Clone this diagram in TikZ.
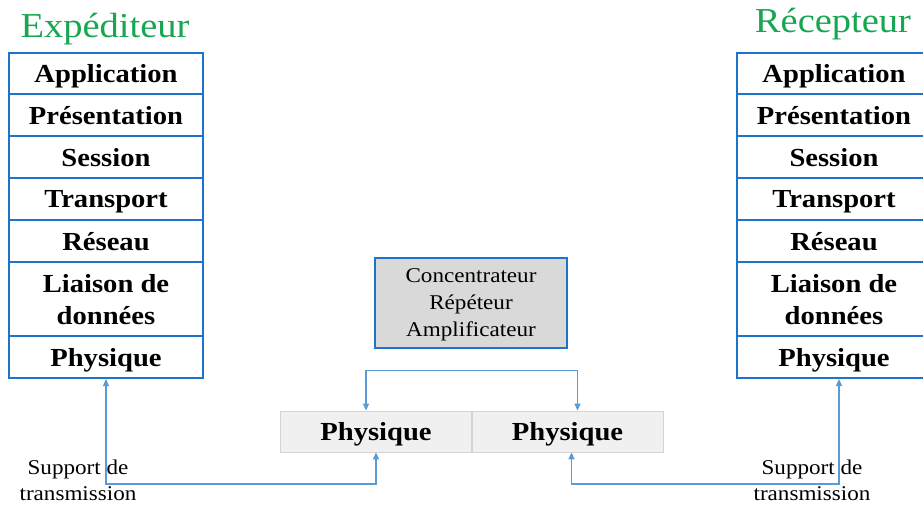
\documentclass[tikz,border=0pt]{standalone}
\usepackage{fontspec}
\setmainfont{Liberation Serif}[FakeStretch=1.1]
\usetikzlibrary{arrows.meta}
\usepackage{xcolor}
\definecolor{layerblue}{RGB}{30,115,205}
\definecolor{linkblue}{RGB}{91,155,213}
\definecolor{titlegreen}{RGB}{24,166,82}
\definecolor{hubgray}{RGB}{217,217,217}
\definecolor{physgray}{RGB}{240,240,240}
\definecolor{physedge}{RGB}{212,212,212}

\begin{document}
\begin{tikzpicture}[x=1pt,y=-1pt,>={Triangle[length=7pt,width=6pt]},line cap=round,
  layer/.style={draw=layerblue,line width=2pt,minimum width=194pt,inner sep=0pt,align=center,
    text depth=0pt,font=\fontsize{26}{32}\selectfont\bfseries},
  hub/.style={draw=layerblue,line width=2pt,fill=hubgray,minimum width=192pt,minimum height=90pt,
    inner sep=0pt,align=center,text depth=0pt,font=\fontsize{21}{27}\selectfont},
  phys/.style={draw=physedge,line width=0.8pt,fill=physgray,minimum width=191pt,minimum height=41pt,
    inner sep=0pt,text depth=0pt,font=\fontsize{26}{32}\selectfont\bfseries},
  side/.style={text=titlegreen,inner sep=0pt,font=\fontsize{35}{42}\selectfont},
  medium/.style={inner sep=0pt,align=center,font=\fontsize{21}{26}\selectfont},
  link/.style={draw=linkblue,line width=1.3pt,line cap=butt}]
\useasboundingbox (0,0) rectangle (923,506);
% titles
\node[side] (sender) at (105,29) {Expéditeur};
\node[side] (receiver) at (833,24) {Récepteur};
% the two stacks
\foreach \s/\cx in {e/106,r/834}{
  \node[layer,minimum height=41pt] (\s App) at (\cx,73.5) {Application};
  \node[layer,minimum height=42pt] (\s Pres) at (\cx,115) {Présentation};
  \node[layer,minimum height=42pt] (\s Sess) at (\cx,157) {Session};
  \node[layer,minimum height=42pt] (\s Trans) at (\cx,199) {Transport};
  \node[layer,minimum height=42pt] (\s Res) at (\cx,241) {Réseau};
  \node[layer,minimum height=74pt] (\s Liai) at (\cx,299) {Liaison de\\données};
  \node[layer,minimum height=42pt] (\s Phys) at (\cx,357) {Physique};
}
% intermediate device
\node[hub] (hub) at (471,303) {Concentrateur\\Répéteur\\Amplificateur};
\node[phys] (physL) at (376,431.5) {Physique};
\node[phys] (physR) at (567.5,431.5) {Physique};
\draw[link,<->] ([xshift=-10pt]physL.north) -- ++(0,-40) -| ([xshift=10pt]physR.north);
% transmission media
\draw[link,<->] (ePhys.south) -- ++(0,105) -| (physL.south);
\draw[link,<->] ([xshift=5pt]rPhys.south) -- ++(0,105) -| ([xshift=4pt]physR.south);
\node[medium] (mediumL) at (78,480) {Support de\\transmission};
\node[medium] (mediumR) at (812,480) {Support de\\transmission};
\end{tikzpicture}
\end{document}
